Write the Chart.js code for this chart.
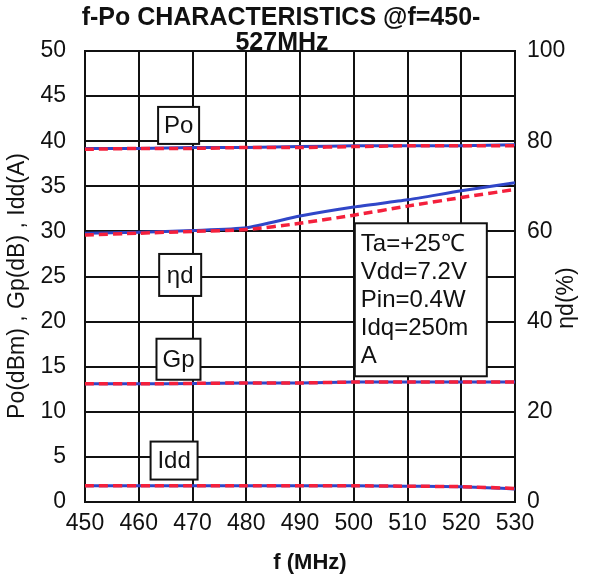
<!DOCTYPE html>
<html lang="en">
<head>
    <meta charset="UTF-8">
    <title>f-Po Characteristics</title>
    <script src="https://cdn.jsdelivr.net/npm/chart.js"></script>
    <style>
        html, body { margin: 0; padding: 0; background: #fff; }
        .chart_box { width: 597px; height: 582px; position: relative; }
    </style>
</head>
<body>
    <div class="chart_box">
        <canvas id="fpoChart"></canvas>
    </div>

    <script>
        // frequency points (MHz)
        const freqs = [450, 460, 470, 480, 490, 500, 510, 520, 530];

        // output power (dBm)
        const poA = [39.2, 39.2, 39.3, 39.3, 39.4, 39.5, 39.5, 39.5, 39.6];
        const poB = [39.1, 39.2, 39.2, 39.3, 39.3, 39.4, 39.5, 39.5, 39.5];

        // drain efficiency (%), right axis
        const etaA = [59.6, 59.8, 60.2, 60.8, 63.4, 65.4, 67.0, 69.0, 70.8];
        const etaB = [59.2, 59.6, 60.0, 60.4, 61.8, 63.6, 65.6, 67.5, 69.3];

        // power gain (dB)
        const gpA = [13.1, 13.1, 13.15, 13.2, 13.2, 13.3, 13.3, 13.3, 13.3];
        const gpB = [13.1, 13.1, 13.15, 13.2, 13.2, 13.3, 13.3, 13.3, 13.3];

        // drain current (A)
        const iddA = [1.8, 1.8, 1.8, 1.8, 1.8, 1.8, 1.75, 1.7, 1.45];
        const iddB = [1.8, 1.8, 1.8, 1.8, 1.8, 1.8, 1.75, 1.7, 1.5];

        const leftTicks = [0, 5, 10, 15, 20, 25, 30, 35, 40, 45, 50];
        const rightTicks = [0, 20, 40, 60, 80, 100];
        const condLines = ['Ta=+25℃', 'Vdd=7.2V', 'Pin=0.4W', 'Idq=250m', 'A'];

        const BLUE = '#3046c8';
        const RED = '#f4203c';
        const FONT = "'Liberation Sans', Arial, sans-serif";

        function pts(ys) {
            return freqs.map((f, i) => ({ x: f, y: ys[i] }));
        }

        // order: lower numbers are drawn on top, so the red dashes sit over the blue
        function solid(ys, axis) {
            return {
                data: pts(ys), yAxisID: axis, order: 2,
                borderColor: BLUE, borderWidth: 3,
                pointRadius: 0, tension: 0.2, fill: false
            };
        }

        function dashed(ys, axis) {
            return {
                data: pts(ys), yAxisID: axis, order: 1,
                borderColor: RED, borderWidth: 3.5,
                borderDash: [9, 5],
                pointRadius: 0, tension: 0.2, fill: false
            };
        }

        // white background and the title (drawn first so the frame sits on top)
        const backdrop = {
            id: 'backdrop',
            beforeDraw(chart) {
                const c = chart.ctx;
                c.save();
                c.fillStyle = '#fff';
                c.fillRect(0, 0, chart.width, chart.height);
                c.fillStyle = '#111';
                c.textAlign = 'center';
                c.textBaseline = 'middle';
                c.font = 'bold 25px ' + FONT;
                c.fillText('f-Po CHARACTERISTICS @f=450-', 281, 18);
                c.fillText('527MHz', 282, 43);
                c.restore();
            }
        };

        // boxed series labels, the conditions note and the axis titles
        const notes = {
            id: 'notes',
            afterDatasetsDraw(chart) {
                const c = chart.ctx;
                const x = chart.scales.x;
                const y = chart.scales.y;

                function tag(text, fx, fy, w, h) {
                    const px = x.getPixelForValue(fx);
                    const py = y.getPixelForValue(fy);
                    c.fillStyle = '#fff';
                    c.fillRect(px, py, w, h);
                    c.strokeStyle = '#111';
                    c.lineWidth = 2;
                    c.strokeRect(px, py, w, h);
                    c.fillStyle = '#111';
                    c.font = '24px ' + FONT;
                    c.textAlign = 'center';
                    c.textBaseline = 'middle';
                    c.fillText(text, px + w / 2, py + h / 2 + 1);
                }

                c.save();
                tag('Po', 463.6, 43.8, 41, 37);
                tag('ηd', 463.8, 27.5, 42, 42);
                tag('Gp', 463.3, 18.1, 44, 41);
                tag('Idd', 462.2, 6.7, 47, 38);

                // test conditions
                const bx = x.getPixelForValue(500.2);
                const by = y.getPixelForValue(30.9);
                c.fillStyle = '#fff';
                c.fillRect(bx, by, 132, 153);
                c.strokeStyle = '#111';
                c.lineWidth = 2;
                c.strokeRect(bx, by, 132, 153);
                c.fillStyle = '#111';
                c.font = '24px ' + FONT;
                c.textAlign = 'left';
                c.textBaseline = 'middle';
                condLines.forEach((t, i) => c.fillText(t, bx + 6, by + 21 + i * 28));

                // axis titles
                c.font = 'bold 22px ' + FONT;
                c.textAlign = 'center';
                c.fillText('f (MHz)', 310, 563);

                c.font = '23px ' + FONT;
                c.translate(18, 286);
                c.rotate(-Math.PI / 2);
                c.fillText('Po(dBm) , Gp(dB) , Idd(A)', 0, 0);
                c.restore();

                c.save();
                c.fillStyle = '#111';
                c.font = '23px ' + FONT;
                c.textAlign = 'center';
                c.textBaseline = 'middle';
                c.translate(567, 298);
                c.rotate(-Math.PI / 2);
                c.fillText('ηd(%)', 0, 0);
                c.restore();
            }
        };

        const tickFont = { family: FONT, size: 23 };

        new Chart(document.getElementById('fpoChart'), {
            type: 'line',
            data: {
                datasets: [
                    solid(poA, 'y'), dashed(poB, 'y'),
                    solid(etaA, 'y2'), dashed(etaB, 'y2'),
                    solid(gpA, 'y'), dashed(gpB, 'y'),
                    solid(iddA, 'y'), dashed(iddB, 'y')
                ]
            },
            options: {
                responsive: true,
                maintainAspectRatio: false,
                animation: false,
                layout: { padding: { top: 51, left: 0, right: 0, bottom: 0 } },
                plugins: {
                    legend: { display: false },
                    tooltip: { enabled: false }
                },
                scales: {
                    x: {
                        type: 'linear',
                        min: freqs[0],
                        max: freqs[freqs.length - 1],
                        afterBuildTicks(axis) {
                            axis.ticks = freqs.map(v => ({ value: v }));
                        },
                        afterFit(axis) { axis.height = 80; },
                        ticks: { color: '#111', font: tickFont, padding: 8, maxRotation: 0 },
                        grid: { color: '#111', lineWidth: 2, drawTicks: false },
                        border: { color: '#111', width: 2 }
                    },
                    y: {
                        position: 'left',
                        min: 0, max: 50,
                        afterBuildTicks(axis) {
                            axis.ticks = leftTicks.map(v => ({ value: v }));
                        },
                        afterFit(axis) { axis.width = 85; },
                        ticks: { color: '#111', font: tickFont, padding: 19 },
                        grid: { color: '#111', lineWidth: 2, drawTicks: false },
                        border: { color: '#111', width: 2 }
                    },
                    y2: {
                        position: 'right',
                        min: 0, max: 100,
                        afterBuildTicks(axis) {
                            axis.ticks = rightTicks.map(v => ({ value: v }));
                        },
                        afterFit(axis) { axis.width = 82; },
                        ticks: { color: '#111', font: tickFont, padding: 12 },
                        grid: { display: false, drawTicks: false },
                        border: { color: '#111', width: 2 }
                    }
                }
            },
            plugins: [backdrop, notes]
        });
    </script>
</body>
</html>
